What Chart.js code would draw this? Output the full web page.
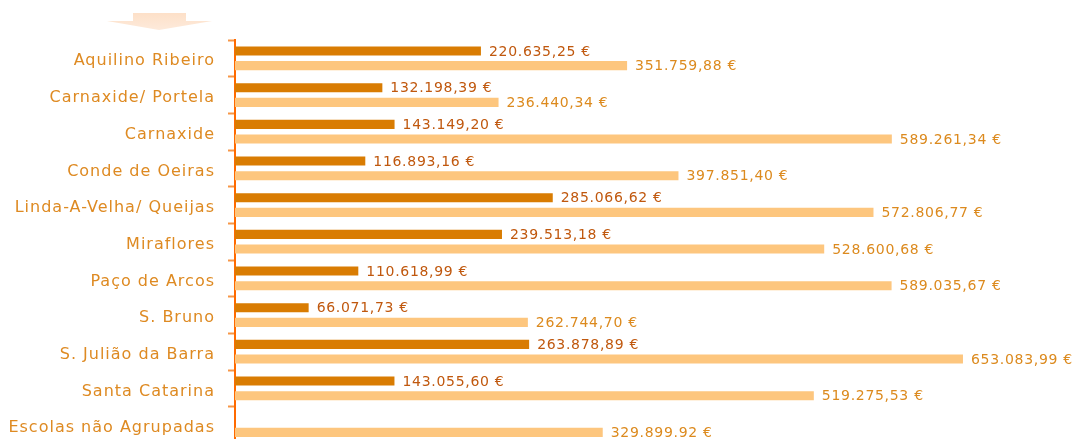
<!DOCTYPE html>
<html>
<head>
<meta charset="utf-8">
<script src="https://cdn.jsdelivr.net/npm/chart.js@4.4.1/dist/chart.umd.min.js"></script>
<style>
    html, body { margin: 0; padding: 0; background: #fff; overflow: hidden; }
</style>
</head>
<body>
<canvas id="barChart" width="1072" height="466"></canvas>
<script>
// Schools / groupings
const categories = [
    'Aquilino Ribeiro', 'Carnaxide/ Portela', 'Carnaxide', 'Conde de Oeiras',
    'Linda-A-Velha/ Queijas', 'Miraflores', 'Paço de Arcos', 'S. Bruno',
    'S. Julião da Barra', 'Santa Catarina', 'Escolas não Agrupadas'
];

// Dark series values (€)
const seriesA = [220635.25, 132198.39, 143149.20, 116893.16, 285066.62, 239513.18,
    110618.99, 66071.73, 263878.89, 143055.60, null];

// Light series values (€)
const seriesB = [351759.88, 236440.34, 589261.34, 397851.40, 572806.77, 528600.68,
    589035.67, 262744.70, 653083.99, 519275.53, 329899.92];

// Value labels as printed in the original
const labelsA = ['220.635,25 €', '132.198,39 €', '143.149,20 €', '116.893,16 €', '285.066,62 €',
    '239.513,18 €', '110.618,99 €', '66.071,73 €', '263.878,89 €', '143.055,60 €', ''];
const labelsB = ['351.759,88 €', '236.440,34 €', '589.261,34 €', '397.851,40 €', '572.806,77 €',
    '528.600,68 €', '589.035,67 €', '262.744,70 €', '653.083,99 €', '519.275,53 €', '329.899.92 €'];

const FONT = '"DejaVu Sans", Verdana, sans-serif';

// Draw value text at the end of each bar
const valueLabels = {
    id: 'valueLabels',
    afterDatasetsDraw(chart) {
        const ctx = chart.ctx;
        ctx.save();
        ctx.letterSpacing = '0.7px';
        ctx.font = '14px ' + FONT;
        ctx.textBaseline = 'middle';
        ctx.textAlign = 'left';
        chart.data.datasets.forEach((ds, i) => {
            const meta = chart.getDatasetMeta(i);
            const texts = i === 0 ? labelsA : labelsB;
            ctx.fillStyle = i === 0 ? '#c0580e' : '#dc8a1e';
            meta.data.forEach((bar, j) => {
                if (!texts[j] || ds.data[j] == null) return;
                ctx.fillText(texts[j], bar.x + 8, bar.y + 1);
            });
        });
        ctx.restore();
    }
};

// Small pointing arrow at the top left, also sets the wider text spacing for the axis labels
const arrow = {
    id: 'arrow',
    beforeDraw(chart) {
        const ctx = chart.ctx;
        ctx.save();
        const g = ctx.createLinearGradient(0, 13, 0, 30);
        g.addColorStop(0, '#fde0c8');
        g.addColorStop(1, '#fdeadb');
        ctx.fillStyle = g;
        ctx.beginPath();
        ctx.moveTo(133, 13);
        ctx.lineTo(186, 13);
        ctx.lineTo(186, 21);
        ctx.lineTo(212, 21);
        ctx.lineTo(159, 30);
        ctx.lineTo(107, 21);
        ctx.lineTo(133, 21);
        ctx.closePath();
        ctx.fill();
        ctx.restore();
        ctx.letterSpacing = '1px';
    }
};

const ctx = document.getElementById('barChart').getContext('2d');
new Chart(ctx, {
    type: 'bar',
    data: {
        labels: categories,
        datasets: [{
            label: 'A',
            data: seriesA,
            backgroundColor: '#d97c02',
            borderWidth: 0,
            categoryPercentage: 0.8,
            barPercentage: 0.62
        }, {
            label: 'B',
            data: seriesB,
            backgroundColor: '#fdc67e',
            borderWidth: 0,
            categoryPercentage: 0.8,
            barPercentage: 0.62
        }]
    },
    options: {
        indexAxis: 'y',
        responsive: false,
        animation: false,
        layout: { padding: { top: 40, right: 1, bottom: 2, left: 0 } },
        plugins: {
            legend: { display: false },
            tooltip: { enabled: false }
        },
        scales: {
            x: {
                display: false,
                min: 0,
                max: 750000
            },
            y: {
                afterFit: (scale) => { scale.width = 235; },
                grid: {
                    offset: true,
                    drawOnChartArea: false,
                    tickLength: 7,
                    tickWidth: 2,
                    color: '#f79646'
                },
                border: { color: '#ff6a00', width: 2 },
                ticks: {
                    padding: 13,
                    labelOffset: 3,
                    color: '#de8a22',
                    font: { family: FONT, size: 16 }
                }
            }
        }
    },
    plugins: [arrow, valueLabels]
});
</script>
</body>
</html>
